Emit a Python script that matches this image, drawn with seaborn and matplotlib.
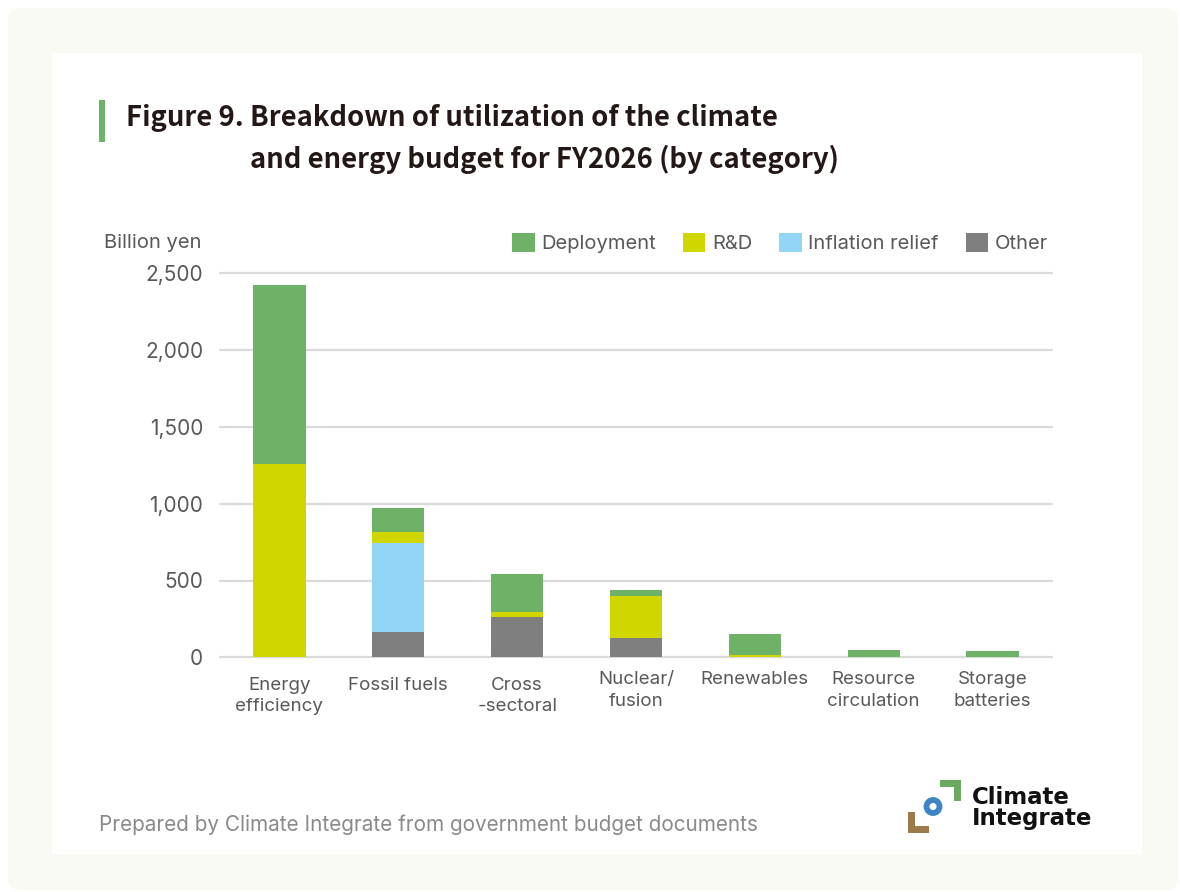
import numpy as np
import pandas as pd
import matplotlib
matplotlib.use("Agg")
import matplotlib.pyplot as plt
from matplotlib.patches import FancyBboxPatch, Rectangle, Circle, Patch
from matplotlib.transforms import blended_transform_factory
import seaborn as sns

# Budget by category, billion yen
categories = ["Energy\nefficiency", "Fossil fuels", "Cross\n-sectoral", "Nuclear/\nfusion",
              "Renewables", "Resource\ncirculation", "Storage\nbatteries"]
other = [0, 167, 262, 126, 0, 0, 0]
inflation_relief = [0, 579, 0, 0, 0, 0, 0]
rnd = [1258, 72, 35, 275, 15, 5, 0]
deployment = [1166, 156, 245, 37, 137, 43, 41]

series_names = ["Deployment", "R&D", "Inflation relief", "Other"]
colors = {"Deployment": "#6db267", "R&D": "#d0d600",
          "Inflation relief": "#93d5f6", "Other": "#7f7f7f"}

sns.set_theme(style="white")
plt.rcParams["font.family"] = ["Inter", "DejaVu Sans"]

W, H = 1180, 892
fig = plt.figure(figsize=(W / 100, H / 100), dpi=100)


def fx(x):
    return x / W


def fy(y):
    return 1 - y / H


# Decoration layer in pixel coordinates (origin top-left)
deco = fig.add_axes([0, 0, 1, 1], zorder=0)
deco.set_xlim(0, W)
deco.set_ylim(H, 0)
deco.axis("off")

deco.add_patch(FancyBboxPatch((8, 8), 1170, 882, boxstyle="round,pad=0,rounding_size=12",
                              facecolor="#f8faf3", edgecolor="none"))
deco.add_patch(Rectangle((52, 53), 1090, 801, facecolor="white", edgecolor="none"))

# Title with accent bar
deco.add_patch(Rectangle((99, 100), 6, 42, facecolor="#6db267", edgecolor="none"))
title_kw = dict(fontsize=19.8, fontweight="bold", color="#231815",
                family=["Noto Sans CJK JP", "DejaVu Sans"], va="center", ha="left")
deco.text(126, 118, "Figure 9. Breakdown of utilization of the climate", **title_kw)
deco.text(250, 159, "and energy budget for FY2026 (by category)", **title_kw)

# Source note
deco.text(99, 825, "Prepared by Climate Integrate from government budget documents",
          ha="left", va="center", fontsize=14.9, color="#8a8a8a")

# Logo mark
green, brown, blue = "#6aaa5f", "#9c7a4a", "#3d85c6"
deco.add_patch(Rectangle((940, 780), 21, 7, facecolor=green, edgecolor="none"))
deco.add_patch(Rectangle((954, 780), 7, 21, facecolor=green, edgecolor="none"))
deco.add_patch(Rectangle((908, 812), 7, 21, facecolor=brown, edgecolor="none"))
deco.add_patch(Rectangle((908, 826), 21, 7, facecolor=brown, edgecolor="none"))
deco.add_patch(Circle((933, 806.5), 6.5, facecolor="none", edgecolor=blue, linewidth=4.2))
logo_kw = dict(ha="left", va="baseline", fontsize=16.5, fontweight="bold",
               color="#111111", family=["DejaVu Sans"])
deco.text(972, 803.5, "Climate", **logo_kw)
deco.text(972, 825, "Integrate", **logo_kw)

deco.text(202, 243, "Billion yen", ha="right", va="center", fontsize=14.5, color="#595959")

# Chart axes
ax_bottom, ax_height = 657.3, 384
ax = fig.add_axes([fx(220), fy(ax_bottom), fx(832), ax_height / H], zorder=1)
ax.patch.set_visible(False)
df = pd.DataFrame({"category": categories, "Other": other,
                   "Inflation relief": inflation_relief, "R&D": rnd,
                   "Deployment": deployment})
stack_order = ["Other", "Inflation relief", "R&D", "Deployment"]
cum = df[stack_order].cumsum(axis=1)
# draw tallest cumulative layer first so lower layers sit on top
for name in reversed(stack_order):
    sns.barplot(x=df["category"], y=cum[name], color=colors[name], width=0.44,
                saturation=1, linewidth=0, ax=ax, zorder=3)

ax.set_ylim(0, 2500)
ax.set_xlim(-0.5, len(categories) - 0.5)
ax.set_yticks([0, 500, 1000, 1500, 2000, 2500])
ax.yaxis.set_major_formatter(matplotlib.ticker.FuncFormatter(lambda v, p: f"{v:,.0f}"))
ax.grid(axis="y", color="#dadada", linewidth=1.6, zorder=0)
for gl in ax.get_ygridlines():
    gl.set_clip_on(False)
ax.set_axisbelow(True)
for s in ax.spines.values():
    s.set_visible(False)
ax.set_xlabel("")
ax.set_ylabel("")
ax.tick_params(axis="y", length=0, pad=12, labelsize=15, labelcolor="#595959")
ax.tick_params(axis="x", length=0, labelbottom=False)

# Category labels; the right-hand group sits slightly higher
xt = blended_transform_factory(ax.transData, ax.transAxes)
for i, cat in enumerate(categories):
    top_px = 676.5 if i < 3 else 671
    ax.text(i, (ax_bottom - top_px) / ax_height, cat, transform=xt, ha="center", va="top",
            fontsize=13.5, color="#595959", linespacing=1.36, clip_on=False)

handles = [Patch(facecolor=colors[n], edgecolor="none", label=n) for n in series_names]
fig.legend(handles=handles, loc="center right", ncol=4,
           bbox_to_anchor=(fx(1048), fy(243)), bbox_transform=fig.transFigure,
           frameon=False, fontsize=14.5, labelcolor="#595959",
           handlelength=1.1, handleheight=1.1, handletextpad=0.33,
           columnspacing=1.35, borderpad=0, borderaxespad=0)

fig.savefig("out.png", dpi=100, facecolor="white")
